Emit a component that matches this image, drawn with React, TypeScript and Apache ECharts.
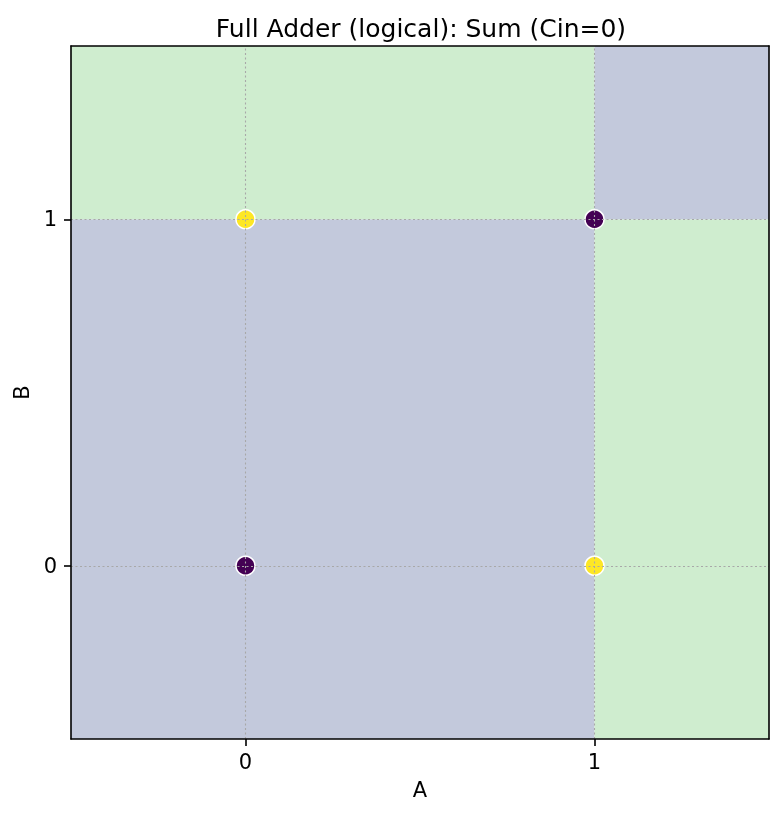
import React, { useEffect, useRef } from "react";
import * as echarts from "echarts";

// Truth table points (Cin = 0)
const aValues = [0, 0, 1, 1];
const bValues = [0, 1, 0, 1];
const sumValues = [0, 1, 1, 0];

// Decision regions: [a0, a1] x [b0, b1] -> predicted class
const regionA0 = [-0.5, 1, -0.5, 1];
const regionA1 = [1, 1.5, 1, 1.5];
const regionB0 = [-0.5, -0.5, 1, 1];
const regionB1 = [1, 1, 1.5, 1.5];
const regionClass = [0, 1, 1, 0];

const tickValues = [0, 1];
const axisMin = -0.5;
const axisMax = 1.5;

const regionColors = ["#c3c9dc", "#cfedcf"];
const pointColors = ["#440154", "#fde725"];
const FONT = "DejaVu Sans";

export default function App() {
  const ref = useRef<HTMLDivElement>(null);
  useEffect(() => {
    if (!ref.current) return;
    const chart = echarts.init(ref.current, null, { renderer: "svg" });
    const regionData = regionA0.map((a0, i) => [a0, regionA1[i], regionB0[i], regionB1[i], regionClass[i]]);
    const pointData = aValues.map((a, i) => ({
      value: [a, bValues[i]],
      itemStyle: { color: pointColors[sumValues[i]] },
    }));
    const spine = { show: true, onZero: false, lineStyle: { color: "#000", width: 1.6 } };
    chart.setOption({
      animation: false,
      title: {
        text: "Full Adder (logical): Sum (Cin=0)",
        left: 416,
        textAlign: "center",
        top: 11,
        textStyle: { fontFamily: FONT, fontSize: 25, fontWeight: "normal", color: "#000" },
      },
      grid: { left: 71, right: 14, top: 46, bottom: 78, containLabel: false },
      xAxis: [
        {
          type: "value",
          min: axisMin,
          max: axisMax,
          z: 10,
          name: "A",
          nameLocation: "middle",
          nameGap: 40,
          nameTextStyle: { fontFamily: FONT, fontSize: 21, color: "#000" },
          axisLine: spine,
          axisTick: { show: true, customValues: tickValues, length: 7, lineStyle: { color: "#000", width: 1.6 } },
          axisLabel: { customValues: tickValues, margin: 12, fontFamily: FONT, fontSize: 21, color: "#000" },
          splitLine: { show: false },
        },
        {
          type: "value",
          position: "top",
          min: axisMin,
          max: axisMax,
          z: 10,
          axisLine: spine,
          axisTick: { show: false },
          axisLabel: { show: false },
          splitLine: { show: false },
        },
      ],
      yAxis: [
        {
          type: "value",
          min: axisMin,
          max: axisMax,
          z: 10,
          name: "B",
          nameLocation: "middle",
          nameGap: 33,
          nameTextStyle: { fontFamily: FONT, fontSize: 21, color: "#000" },
          axisLine: spine,
          axisTick: { show: true, customValues: tickValues, length: 7, lineStyle: { color: "#000", width: 1.6 } },
          axisLabel: { customValues: tickValues, margin: 14, fontFamily: FONT, fontSize: 21, color: "#000" },
          splitLine: { show: false },
        },
        {
          type: "value",
          position: "right",
          min: axisMin,
          max: axisMax,
          z: 10,
          axisLine: spine,
          axisTick: { show: false },
          axisLabel: { show: false },
          splitLine: { show: false },
        },
      ],
      series: [
        {
          type: "custom",
          z: 1,
          silent: true,
          clip: true,
          data: regionData,
          renderItem: (params: any, api: any) => {
            const p1 = api.coord([api.value(0), api.value(3)]);
            const p2 = api.coord([api.value(1), api.value(2)]);
            const cls = api.value(4);
            return {
              type: "rect",
              shape: { x: p1[0], y: p1[1], width: p2[0] - p1[0], height: p2[1] - p1[1] },
              style: { fill: regionColors[cls], stroke: null },
            };
          },
        },
        {
          type: "scatter",
          z: 3,
          symbol: "circle",
          symbolSize: 19,
          itemStyle: { borderColor: "#fff", borderWidth: 1.5, opacity: 1 },
          data: pointData,
        },
        {
          type: "scatter",
          z: 5,
          data: [],
          markLine: {
            silent: true,
            symbol: ["none", "none"],
            label: { show: false },
            lineStyle: { color: "#a8a8a8", type: [2, 2.5], width: 1.1 },
            data: [
              ...tickValues.map((v) => ({ xAxis: v })),
              ...tickValues.map((v) => ({ yAxis: v })),
            ],
          },
        },
      ],
    });
    return () => chart.dispose();
  }, []);
  return <div ref={ref} style={{ position: "fixed", left: 0, top: 0, width: 783, height: 817 }} />;
}
